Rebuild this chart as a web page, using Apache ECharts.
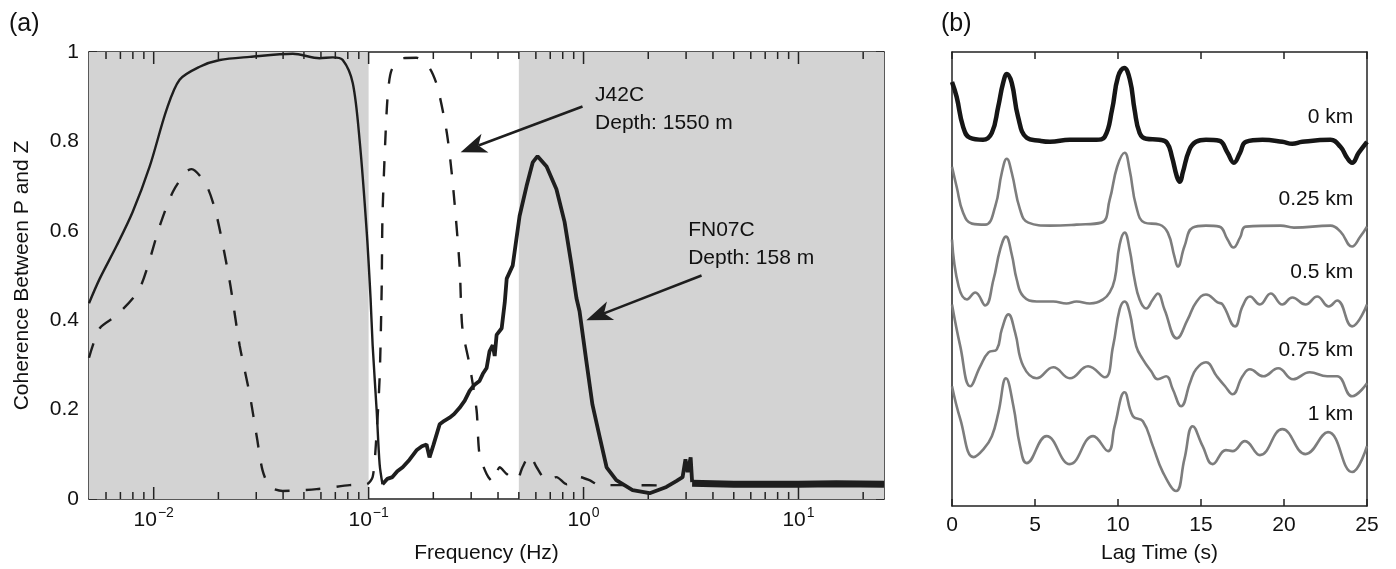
<!DOCTYPE html>
<html><head><meta charset="utf-8">
<script src="https://cdn.jsdelivr.net/npm/echarts@6/dist/echarts.min.js"></script>
<style>html,body{margin:0;padding:0;background:#fff}#c{width:1396px;height:569px}</style>
</head><body><div id="c"></div>
<script>
// ---------- Panel (a) data: [frequency Hz, coherence] ----------
const fn07cLow = [[0.005,0.438],[0.00561,0.493],[0.00673,0.567],[0.00798,0.642],[0.00958,0.744],[0.01148,0.871],[0.0132,0.938],[0.01637,0.967],[0.0203,0.982],[0.028,0.989],[0.0444,0.996],[0.0591,0.986],[0.068,0.988],[0.0758,0.982],[0.0844,0.93],[0.0909,0.80],[0.098,0.597],[0.1021,0.449],[0.1044,0.344],[0.109,0.198],[0.1125,0.078],[0.116,0.033]];
const fn07cHigh = [[0.116,0.033],[0.122,0.045],[0.129,0.049],[0.136,0.062],[0.144,0.071],[0.155,0.088],[0.167,0.109],[0.177,0.118],[0.186,0.122],[0.192,0.093],[0.2,0.12],[0.214,0.167],[0.225,0.175],[0.238,0.182],[0.25,0.19],[0.265,0.204],[0.28,0.22],[0.295,0.242],[0.31,0.255],[0.328,0.264],[0.34,0.28],[0.354,0.293],[0.365,0.33],[0.378,0.344],[0.386,0.32],[0.394,0.367],[0.416,0.382],[0.43,0.44],[0.439,0.493],[0.468,0.522],[0.504,0.633],[0.543,0.70],[0.58,0.753],[0.611,0.767],[0.673,0.744],[0.748,0.693],[0.816,0.62],[0.88,0.522],[0.927,0.449],[0.958,0.42],[1.03,0.309],[1.10,0.211],[1.19,0.138],[1.28,0.071],[1.42,0.042],[1.69,0.02],[2.03,0.013],[2.43,0.027],[2.7,0.04],[2.89,0.049],[2.98,0.089],[3.05,0.06],[3.15,0.093],[3.2,0.038]];
const fn07cFlat = [[3.2,0.035],[5,0.033],[10,0.033],[15,0.034],[25,0.033]];
const j42c = [[0.005,0.316],[0.00561,0.382],[0.00673,0.411],[0.00861,0.471],[0.01067,0.611],[0.01227,0.687],[0.01422,0.733],[0.01503,0.738],[0.01766,0.70],[0.01965,0.633],[0.02257,0.487],[0.0251,0.344],[0.028,0.233],[0.0302,0.138],[0.0321,0.064],[0.0347,0.027],[0.0398,0.018],[0.0573,0.022],[0.0816,0.031],[0.098,0.033],[0.1044,0.049],[0.108,0.12],[0.1125,0.271],[0.115,0.471],[0.116,0.633],[0.12,0.82],[0.123,0.909],[0.128,0.96],[0.144,0.986],[0.167,0.987],[0.192,0.964],[0.209,0.922],[0.231,0.82],[0.246,0.709],[0.265,0.522],[0.273,0.382],[0.295,0.30],[0.318,0.198],[0.328,0.1],[0.354,0.056],[0.378,0.038],[0.407,0.071],[0.439,0.056],[0.488,0.042],[0.52,0.071],[0.561,0.098],[0.605,0.071],[0.673,0.042],[0.748,0.049],[0.834,0.033],[0.958,0.049],[1.066,0.042],[1.19,0.031],[1.69,0.031],[2.5,0.03]];
const shadedBands = [[0.005,0.1],[0.5,25]];
const majorTicks = [0.01,0.1,1,10];
const minorTicks = [0.006,0.007,0.008,0.009,0.02,0.03,0.04,0.05,0.06,0.07,0.08,0.09,0.2,0.3,0.4,0.5,0.6,0.7,0.8,0.9,2,3,4,5,6,7,8,9,20];
const yTicksA = [0,0.2,0.4,0.6,0.8,1];
// annotations (data coordinates)
const j42cText = 'J42C\nDepth: 1550 m';
const fn07cText = 'FN07C\nDepth: 158 m';
const j42cTextAt = [1.125, 0.873];
const fn07cTextAt = [3.05, 0.569];
const j42cArrow = [[0.989,0.878],[0.268,0.776]];
const fn07cArrow = [[3.54,0.50],[1.03,0.40]];

// ---------- Panel (b) data: [lag time s, trace level] ----------
const trace0 = [[0,425],[0.28,410],[0.67,380],[1.08,369],[1.87,367],[2.4,374],[2.78,400],[3.08,424],[3.31,433],[3.6,424],[3.98,390],[4.5,369],[5.3,366],[5.9,365],[7.1,367],[8.7,367],[9.2,370],[9.64,397],[10.0,430],[10.37,439],[10.72,427],[11.0,397],[11.3,374],[11.7,368],[12.5,367],[12.95,364],[13.25,350],[13.55,330],[13.73,325],[13.9,334],[14.3,357],[14.7,365],[15.3,367],[16.1,366],[16.6,354],[16.98,344],[17.35,354],[17.7,365],[18.7,367],[19.9,365],[20.5,363],[21.1,365],[22.8,367],[23.4,360],[23.8,349],[24.1,344],[24.5,354],[25,365]];
const trace025 = [[0,340],[0.28,320],[0.67,294],[1.2,283],[2.0,282],[2.6,300],[3.0,334],[3.3,348],[3.6,334],[4.1,297],[4.6,284],[5.9,281],[7.5,282],[9.0,284],[9.5,307],[9.95,340],[10.4,354],[10.7,337],[11.1,300],[11.6,284],[12.5,282],[13.0,274],[13.4,250],[13.6,240],[14.0,260],[14.5,279],[15.3,281],[16.1,280],[16.6,267],[16.95,259],[17.35,269],[17.7,280],[19.8,281],[20.6,279],[22.8,281],[23.4,275],[24.1,260],[24.6,270],[25,280]];
const trace05 = [[0,267],[0.4,220],[0.9,207],[1.4,214],[2.0,201],[2.5,227],[2.9,257],[3.25,270],[3.6,252],[3.9,227],[4.3,210],[5.1,205],[6.1,205],[6.9,203],[7.5,205],[8.3,203],[9.1,207],[9.5,214],[9.8,227],[10.1,262],[10.4,274],[10.7,257],[11.0,227],[11.3,207],[11.7,198],[12.1,207],[12.4,213],[12.8,197],[13.55,168],[14.2,187],[14.7,204],[15.3,212],[16.0,204],[16.3,202],[17.05,180],[17.5,200],[17.95,210],[18.55,202],[19.2,213],[19.9,202],[20.5,209],[21.3,202],[22.0,210],[22.7,200],[23.2,206],[24.1,180],[25,202]];
const trace075 = [[0,202],[0.5,160],[1.1,120],[1.7,140],[2.2,154],[2.7,157],[3.0,177],[3.4,192],[3.8,174],[4.3,140],[5.1,128],[6.1,139],[7.1,128],[8.2,140],[9.2,129],[9.7,160],[10.1,197],[10.4,205],[10.7,194],[11.1,160],[11.5,147],[12.0,135],[12.4,127],[12.9,130],[13.3,117],[13.8,100],[14.35,124],[14.7,137],[15.3,144],[15.95,130],[16.45,120],[16.9,112],[17.5,130],[17.95,137],[18.75,130],[19.65,138],[20.55,127],[21.55,134],[22.6,130],[23.2,130],[24.1,110],[25,123]];
const trace1 = [[0,120],[0.5,87],[1.3,49],[1.9,57],[2.4,70],[2.8,94],[3.25,128],[3.7,100],[4.1,60],[4.5,43],[5.7,70],[7.1,42],[8.5,70],[9.4,55],[9.8,80],[10.4,114],[10.9,90],[11.5,85],[12.1,60],[12.7,34],[13.5,15],[14.0,47],[14.5,80],[15.1,60],[15.7,42],[16.5,56],[16.9,55],[17.65,65],[18.55,51],[19.9,77],[21.3,52],[22.65,74],[24.1,34],[25,60]];
const traceLabels = ['0 km','0.25 km','0.5 km','0.75 km','1 km'];
const traceLabelAt = [[24.2,390],[24.2,307],[24.2,234],[24.2,156],[24.2,92]];
const lagTicks = [0,5,10,15,20,25];

const FONT = 'Liberation Sans, Arial, Helvetica, sans-serif';
const INK = '#1e1e1e';
const AX = {color:'#222', width:1.5};
const AXLINE = {show:true, onZero:false, lineStyle:AX};

function supLabel(v){
  const e = Math.round(Math.log10(v));
  return '{b|10}{s|' + (e < 0 ? '\u2212' + (-e) : e) + '}';
}

const chart = echarts.init(document.getElementById('c'), null, {renderer:'canvas'});

const traces = [trace0, trace025, trace05, trace075, trace1];
const traceSeries = traces.map((d, i) => ({
  type:'line', xAxisIndex:2, yAxisIndex:2, data:d, symbol:'none', smooth:0.45,
  lineStyle:{color: i === 0 ? '#161616' : '#7d7d7d', width: i === 0 ? 4.5 : 2.6},
  z: 3,
  markPoint:{
    symbol:'circle', symbolSize:1, silent:true, itemStyle:{color:'rgba(0,0,0,0)'},
    label:{show:true, position:'left', distance:0, formatter: traceLabels[i], color:'#111', fontSize:21, fontFamily:FONT},
    data:[{coord: traceLabelAt[i]}]
  }
}));

// arrow annotation drawn through the axes' scales
function arrowSeries(name, pts) {
  return {type:'custom', name:name, xAxisIndex:0, yAxisIndex:0, z:6, silent:true, clip:false,
    data:[[pts[0][0], pts[0][1], pts[1][0], pts[1][1]]],
    renderItem:(params, api) => {
      const a = api.coord([api.value(0), api.value(1)]);
      const b = api.coord([api.value(2), api.value(3)]);
      const dx = b[0]-a[0], dy = b[1]-a[1];
      const L = Math.sqrt(dx*dx+dy*dy);
      const ux = dx/L, uy = dy/L, nx = -uy, ny = ux;
      const hl = 26, hw = 10, notch = 7;
      const base = [b[0]-ux*hl, b[1]-uy*hl];
      const inner = [b[0]-ux*(hl-notch), b[1]-uy*(hl-notch)];
      return {type:'group', children:[
        {type:'line', shape:{x1:a[0], y1:a[1], x2:inner[0], y2:inner[1]}, style:{stroke:INK, lineWidth:2.5}},
        {type:'polygon', shape:{points:[b, [base[0]+nx*hw, base[1]+ny*hw], inner, [base[0]-nx*hw, base[1]-ny*hw]]}, style:{fill:INK}}
      ]};
    }};
}

const option = {
  animation:false,
  backgroundColor:'#fff',
  textStyle:{fontFamily:FONT},
  grid:[
    {left:89, top:52, width:795, height:450},
    {left:952, top:52, width:415, height:455}
  ],
  graphic:[
    {type:'text', left:9, top:12, style:{text:'(a)', fontSize:25, fontFamily:FONT, fill:'#111'}},
    {type:'text', left:941, top:12, style:{text:'(b)', fontSize:25, fontFamily:FONT, fill:'#111'}}
  ],
  xAxis:[
    {type:'log', gridIndex:0, logBase:10, min:0.005, max:25, position:'bottom',
     axisLine:AXLINE, splitLine:{show:false},
     axisTick:{show:false},
     axisLabel:{show:true, margin:7, showMinLabel:false, showMaxLabel:false, formatter:supLabel,
       rich:{b:{fontSize:21, fontFamily:FONT, color:'#111', verticalAlign:'bottom'},
             s:{fontSize:14, fontFamily:FONT, color:'#111', verticalAlign:'bottom', padding:[0,0,11,1]}}},
     name:'Frequency (Hz)', nameLocation:'middle', nameGap:44,
     nameTextStyle:{fontSize:21, fontFamily:FONT, color:'#111'}},
    {type:'log', gridIndex:0, logBase:10, min:0.005, max:25, position:'top',
     axisLine:AXLINE, splitLine:{show:false},
     axisTick:{show:false}, axisLabel:{show:false}},
    {type:'value', gridIndex:1, min:0, max:25, interval:5, position:'bottom',
     axisLine:AXLINE, splitLine:{show:false},
     axisTick:{show:true, inside:true, length:7, lineStyle:AX},
     axisLabel:{show:true, margin:9, fontSize:21, fontFamily:FONT, color:'#111',
       formatter:(v)=> lagTicks.indexOf(v) >= 0 ? String(v) : ''},
     name:'Lag Time (s)', nameLocation:'middle', nameGap:37,
     nameTextStyle:{fontSize:21, fontFamily:FONT, color:'#111'}},
    {type:'value', gridIndex:1, min:0, max:25, interval:5, position:'top',
     axisLine:AXLINE, splitLine:{show:false},
     axisTick:{show:true, inside:true, length:7, lineStyle:AX}, axisLabel:{show:false}}
  ],
  yAxis:[
    {type:'value', gridIndex:0, min:0, max:1, interval:0.2, position:'left',
     axisLine:AXLINE, splitLine:{show:false},
     axisTick:{show:true, inside:true, length:8, lineStyle:AX},
     axisLabel:{show:true, margin:10, fontSize:21, fontFamily:FONT, color:'#111',
       formatter:(v)=> { const k = yTicksA.findIndex(t => Math.abs(t - v) < 1e-9); return k >= 0 ? String(yTicksA[k]) : ''; }},
     name:'Coherence Between P and Z', nameLocation:'middle', nameGap:56,
     nameTextStyle:{fontSize:21, fontFamily:FONT, color:'#111'}},
    {type:'value', gridIndex:0, min:0, max:1, interval:0.2, position:'right',
     axisLine:AXLINE, splitLine:{show:false},
     axisTick:{show:true, inside:true, length:8, lineStyle:AX}, axisLabel:{show:false}},
    {type:'value', gridIndex:1, min:0, max:455, position:'left',
     axisLine:AXLINE, splitLine:{show:false},
     axisTick:{show:false}, axisLabel:{show:false}},
    {type:'value', gridIndex:1, min:0, max:455, position:'right',
     axisLine:AXLINE, splitLine:{show:false},
     axisTick:{show:false}, axisLabel:{show:false}}
  ],
  series:[
    {type:'line', name:'shade', xAxisIndex:0, yAxisIndex:0, data:[[0.005,0.5],[25,0.5]], symbol:'none',
     lineStyle:{width:0, opacity:0}, z:0, silent:true,
     markArea:{silent:true, itemStyle:{color:'#d3d3d3'},
       data: shadedBands.map(b => [{xAxis:b[0]}, {xAxis:b[1]}])}},
    {type:'custom', name:'logTicks', xAxisIndex:0, yAxisIndex:0, z:5, silent:true,
     data: majorTicks.map(v => [v, 12]).concat(minorTicks.map(v => [v, 7])),
     renderItem:(params, api) => {
       const v = api.value(0), len = api.value(1);
       const pb = api.coord([v, 0]);
       const pt = api.coord([v, 1]);
       return {type:'group', children:[
         {type:'line', shape:{x1:pb[0], y1:pb[1], x2:pb[0], y2:pb[1]-len}, style:{stroke:'#222', lineWidth:1.5}},
         {type:'line', shape:{x1:pt[0], y1:pt[1], x2:pt[0], y2:pt[1]+len}, style:{stroke:'#222', lineWidth:1.5}}
       ]};
     }},
    {type:'line', name:'J42C', xAxisIndex:0, yAxisIndex:0, data:j42c, symbol:'none', smooth:0.25, z:3,
     lineStyle:{color:INK, width:2.4, type:[15,16]},
     markPoint:{symbol:'circle', symbolSize:1, silent:true, itemStyle:{color:'rgba(0,0,0,0)'},
       label:{show:true, position:'right', distance:0, formatter:j42cText, color:'#111', fontSize:21, lineHeight:28, fontFamily:FONT, align:'left'},
       data:[{coord:j42cTextAt}]}},
    {type:'line', name:'FN07C-low', xAxisIndex:0, yAxisIndex:0, data:fn07cLow, symbol:'none', smooth:0.3, z:4,
     lineStyle:{color:INK, width:2.4}},
    {type:'line', name:'FN07C-high', xAxisIndex:0, yAxisIndex:0, data:fn07cHigh, symbol:'none', z:4,
     lineStyle:{color:INK, width:3.8},
     markPoint:{symbol:'circle', symbolSize:1, silent:true, itemStyle:{color:'rgba(0,0,0,0)'},
       label:{show:true, position:'right', distance:0, formatter:fn07cText, color:'#111', fontSize:21, lineHeight:28, fontFamily:FONT, align:'left'},
       data:[{coord:fn07cTextAt}]}},
    {type:'line', name:'FN07C-flat', xAxisIndex:0, yAxisIndex:0, data:fn07cFlat, symbol:'none', z:4,
     lineStyle:{color:INK, width:7}},
    arrowSeries('arrowJ42C', j42cArrow),
    arrowSeries('arrowFN07C', fn07cArrow)
  ].concat(traceSeries)
};
chart.setOption(option);
</script></body></html>
